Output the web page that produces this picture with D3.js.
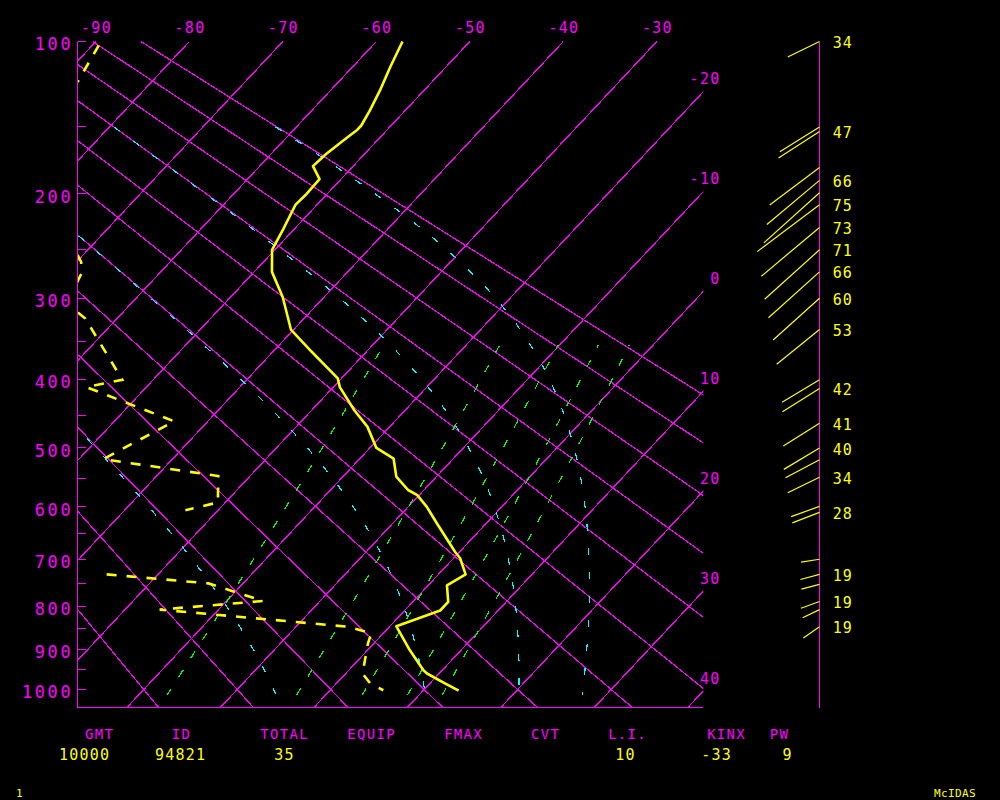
<!DOCTYPE html>
<html><head><meta charset="utf-8">
<script src="https://cdn.jsdelivr.net/npm/d3@7"></script>
<style>html,body{margin:0;padding:0;background:#000;}svg{display:block}</style>
</head><body>
<svg id="c" width="1000" height="800"></svg>
<script>
// ---------------- DATA ----------------
const pressureTicks = [100,150,200,250,300,350,400,450,500,550,600,650,700,750,800,850,900,950,1000];
const pressureLabels = [100,200,300,400,500,600,700,800,900,1000];
const isotherms = [-90,-80,-70,-60,-50,-40,-30,-20,-10,0,10,20,30,40];
const topTempLabels = [-90,-80,-70,-60,-50,-40,-30];
const rightTempLabels = [-20,-10,0,10,20,30,40];
const dryAdiabats = [-20,-10,0,10,20,30,40,50,60,70,80,90];   // theta, deg C
const moistAdiabats = [0,30,60,90];                            // theta-e, deg C
const mixingRatios = [1,3,5,7,9];                              // g/kg

// temperature sounding (hPa, deg C)
const tempP = [100,113,127,139,149,152,157,169,178,188,200,209,230,250,272,299,336,363,398,410,443,467,500,517,547,570,579,600,630,685,698,731,754,790,809,845,901,951,959,984,1003];
const tempT = [-57.2,-56.0,-54.7,-53.8,-53.2,-53.2,-53.5,-54.1,-54.3,-52.3,-52.2,-52.3,-51.2,-50.3,-48.1,-44.4,-40.3,-35.9,-30.4,-29.3,-25.4,-22.4,-19.3,-16.4,-14.3,-11.7,-10.2,-8.0,-5.3,-0.5,0.7,2.9,2.0,3.8,3.8,0.7,4.5,8.0,8.7,11.6,13.8];

// dewpoint sounding (hPa, deg C); null = not shown
const dewP = [102,122,null,255,262,274,283,null,316,323,400,410,459,518,546,592,606,null,731,750,788,807,846,861,886,959,984,1002];
const dewT = [-89.3,-87.9,null,-70.6,-69.5,-68.3,-67.9,null,-64.8,-63.4,-53.3,-56.4,-43.6,-47.4,-33.4,-30.8,-33.5,null,-35.5,-23.7,-16.1,-26.3,-4.4,-1.3,-0.6,1.8,3.6,5.7];

// winds (hPa, knots, direction deg)
const windP   = [100,150,153,179,189,199,209,229,250,272,300,336,400,412,462,500,519,548,599,610,700,731,752,789,807,846];
const windSpd = [34,45,47,60,66,72,75,73,71,66,60,53,42,42,41,40,37,34,29,28,18,19,18,19,18,19];
const windDir = [244,238,237,233,230,228,233,230,228,228,228,231,239,238,238,239,242,244,250,249,261,255,255,250,244,235];
const windLabel = [34,null,47,null,66,null,75,73,71,66,60,53,null,42,41,40,null,34,null,28,null,19,null,19,null,19];

// stability table
const statHeaders = ["GMT","ID","TOTAL","EQUIP","FMAX","CVT","L.I.","KINX","PW"];
const statValues  = ["10000","94821","35","","","","10","-33","9"];

// ---------------- LAYOUT ----------------
const MAG="#ff00ff", YEL="#ffff00", CYA="#00ffff", GRN="#00ff00";
const FONT="DejaVu Sans Mono, Liberation Mono, monospace";
const PL=77.5, PR=702.7, PT=41.5, PB=707.5, WX=819.5;
const SKEW=0.936;
const headerX = [99,181,284,371,463,545,627,726,779];
const valueX  = [84,180,284,371,463,545,625,716,787];

const svg = d3.select("#c");
svg.append("rect").attr("width",1000).attr("height",800).attr("fill","#000");

const y = d3.scalePow().exponent(0.286).domain([100,1000]).range([41.5,689.5]);
const xT = d3.scaleLinear().domain([-90,-30]).range([95.9,656.8]);
const X = (T,p) => xT(T) - SKEW*(y(p)-PT);
const pBottom = y.invert(PB);

svg.append("defs").append("clipPath").attr("id","plot")
  .append("rect").attr("x",PL).attr("y",PT-1).attr("width",PR-PL+0.6).attr("height",PB-PT+1);

const g = svg.append("g").attr("clip-path","url(#plot)");
const line = d3.line().defined(d=>d.T!=null && d.p!=null).x(d=>X(d.T,d.p)).y(d=>y(d.p));

// thermodynamics
const es = Tc => 6.112*Math.exp(17.67*Tc/(Tc+243.5));
const Lv=2.501e6, CP=1004;
function thetaE(Tc,p){const T=Tc+273.15;const e=es(Tc);if(e>=p*0.9)return 1e6;const r=0.622*e/(p-e);return T*Math.pow(1000/p,0.286)*Math.exp(Lv*r/(CP*T));}
function moistT(te,p){let lo=-150,hi=60;const tgt=te+273.15;for(let i=0;i<60;i++){const m=(lo+hi)/2;if(thetaE(m,p)>tgt)hi=m;else lo=m;}return (lo+hi)/2;}
function mixT(w,p){const e=(w/1000)*p/(0.622+w/1000);const L=Math.log(e/6.112);return 243.5*L/(17.67-L);}

// isotherms
isotherms.forEach(T=>{
  g.append("path").attr("d",line([{T,p:100},{T,p:pBottom}]))
   .attr("stroke",MAG).attr("stroke-width",1.2).attr("fill","none").attr("shape-rendering","crispEdges");
});
// dry adiabats
dryAdiabats.forEach(th=>{
  const pts=d3.range(100,pBottom,10).concat([pBottom]).map(p=>({p,T:(th+273.15)*Math.pow(p/1000,0.286)-273.15}));
  g.append("path").attr("d",line(pts))
   .attr("stroke",MAG).attr("stroke-width",1.2).attr("fill","none").attr("shape-rendering","crispEdges");
});
// moist adiabats
moistAdiabats.forEach(te=>{
  const pts=d3.range(150,1015,5).concat([1015]).map(p=>({p,T:moistT(te,p)}));
  g.append("path").attr("d",line(pts))
   .attr("stroke",CYA).attr("stroke-width",1.2).attr("fill","none").attr("stroke-dasharray","7,17").attr("shape-rendering","crispEdges");
});
// mixing ratio lines
mixingRatios.forEach(w=>{
  const pts=d3.range(1015,355,-5).concat([355]).map(p=>({p,T:mixT(w,p)}));
  g.append("path").attr("d",line(pts))
   .attr("stroke",GRN).attr("stroke-width",1.2).attr("fill","none").attr("stroke-dasharray","8,14").attr("shape-rendering","crispEdges");
});
// temperature
g.append("path").attr("d",line(tempP.map((p,i)=>({p,T:tempT[i]}))))
  .attr("stroke",YEL).attr("stroke-width",2.6).attr("fill","none").attr("stroke-linejoin","round");
// dewpoint
g.append("path").attr("d",line(dewP.map((p,i)=>({p,T:dewT[i]}))))
  .attr("stroke",YEL).attr("stroke-width",2.6).attr("fill","none").attr("stroke-dasharray","10,10");

// axes
svg.append("line").attr("x1",PL).attr("x2",PL).attr("y1",PT).attr("y2",PB).attr("stroke",MAG).attr("shape-rendering","crispEdges");
svg.append("line").attr("x1",PL).attr("x2",PR).attr("y1",PB).attr("y2",PB).attr("stroke",MAG).attr("shape-rendering","crispEdges");
pressureTicks.forEach(p=>{
  svg.append("line").attr("x1",PL).attr("x2",PL+8.7).attr("y1",Math.round(y(p)-0.5)+0.5).attr("y2",Math.round(y(p)-0.5)+0.5)
    .attr("stroke",MAG).attr("shape-rendering","crispEdges");
});
pressureLabels.forEach(p=>{
  svg.append("text").attr("x",73.3).attr("y",y(p)+8.6).attr("text-anchor","end")
    .attr("fill",MAG).attr("font-family",FONT).attr("font-size",17).attr("letter-spacing",2.6).text(p);
});
topTempLabels.forEach(T=>{
  svg.append("text").attr("x",xT(T)+0.6).attr("y",33.3).attr("text-anchor","middle")
    .attr("fill",MAG).attr("font-family",FONT).attr("font-size",15).attr("letter-spacing",1.3).text(T);
});
rightTempLabels.forEach(T=>{
  const yi = PT + (xT(T)-PR)/SKEW;
  svg.append("text").attr("x",720.6).attr("y",yi-8).attr("text-anchor","end")
    .attr("fill",MAG).attr("font-family",FONT).attr("font-size",15).attr("letter-spacing",1.3).text(T);
});

// wind axis and vectors
svg.append("line").attr("x1",WX).attr("x2",WX).attr("y1",PT).attr("y2",PB).attr("stroke",MAG).attr("shape-rendering","crispEdges");
windP.forEach((p,i)=>{
  const len=windSpd[i]*1.04, a=windDir[i]*Math.PI/180;
  const y0=y(p);
  svg.append("line").attr("x1",WX).attr("y1",y0).attr("x2",WX+len*Math.sin(a)).attr("y2",y0-len*Math.cos(a))
    .attr("stroke",YEL).attr("stroke-width",1.2);
  if(windLabel[i]!=null){
    svg.append("text").attr("x",832.7).attr("y",y0+6.6).attr("fill",YEL)
      .attr("font-family",FONT).attr("font-size",15).attr("letter-spacing",1).text(windLabel[i]);
  }
});

// stats table
statHeaders.forEach((h,i)=>{
  svg.append("text").attr("x",headerX[i]+0.6).attr("y",739.3).attr("text-anchor","middle")
    .attr("fill",MAG).attr("font-family",FONT).attr("font-size",14).attr("letter-spacing",1.3).text(h);
});
statValues.forEach((v,i)=>{
  if(!v) return;
  svg.append("text").attr("x",valueX[i]+0.6).attr("y",760).attr("text-anchor","middle")
    .attr("fill",YEL).attr("font-family",FONT).attr("font-size",15).attr("letter-spacing",1.2).text(v);
});
svg.append("text").attr("x",16).attr("y",797).attr("fill",YEL).attr("font-family",FONT).attr("font-size",11).text("1");
svg.append("text").attr("x",934).attr("y",797).attr("fill",YEL).attr("font-family",FONT).attr("font-size",11).attr("letter-spacing",0.4).text("McIDAS");
</script>
</body></html>
